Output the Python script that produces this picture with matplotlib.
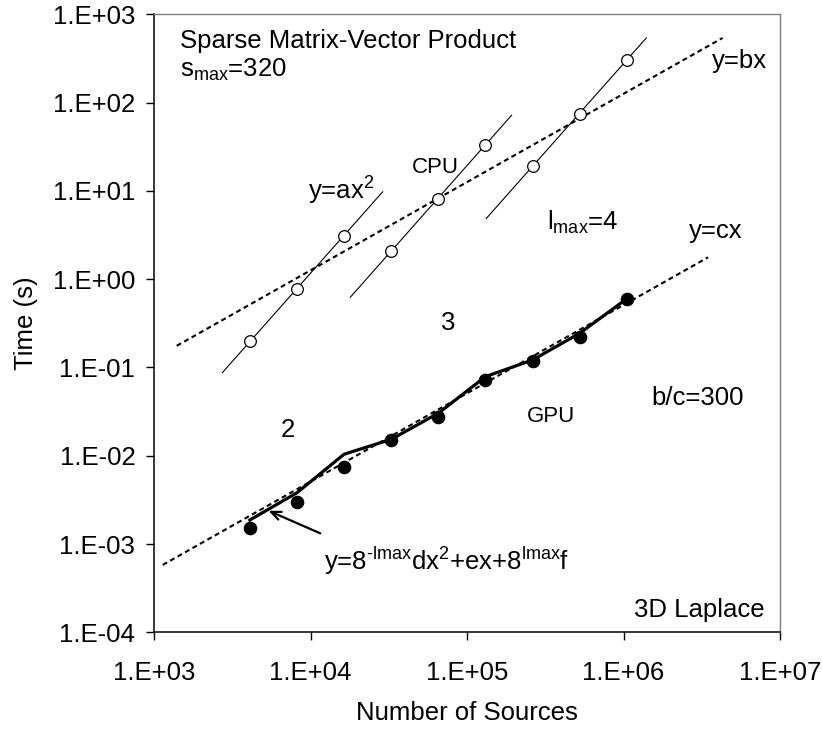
import numpy as np
import matplotlib
matplotlib.use("Agg")
import matplotlib.pyplot as plt
from matplotlib.ticker import FixedLocator, FuncFormatter, NullLocator

plt.rcParams['font.family'] = ['Liberation Sans', 'DejaVu Sans']
plt.rcParams['mathtext.fontset'] = 'custom'
plt.rcParams['mathtext.rm'] = 'Liberation Sans'
plt.rcParams['mathtext.it'] = 'Liberation Sans:italic'
plt.rcParams['mathtext.default'] = 'regular'

# ---------------- data ----------------
n_sources = [4096, 8192, 16384, 32768, 65536, 131072, 262144, 524288, 1048576]
lmax_group = [2, 2, 2, 3, 3, 3, 4, 4, 4]
cpu_time = [0.20, 0.78, 3.1, 2.1, 8.2, 33.5, 19.2, 75.0, 305.0]
gpu_time = [0.00151, 0.00299, 0.0075, 0.0151, 0.0277, 0.0722, 0.119, 0.220, 0.59]
gpu_model = [0.00187, 0.00381, 0.0104, 0.01535, 0.0303, 0.0787, 0.1216, 0.244, 0.60]

cpu_fit_groups = [2, 3, 4]
cpu_fit_xmin = [2736, 17950, 132700]
cpu_fit_xmax = [28900, 192700, 1400000]

b_coef = 1.26e-4
b_line_x = [1397, 4.3e6]
c_coef = 5.1e-7
c_line_x = [1137, 3.47e6]

arrow_tip = (5390, 2.385e-3)
arrow_tail = (11544, 1.322e-3)

x_ticks = [1e3, 1e4, 1e5, 1e6, 1e7]
y_ticks = [1e-4, 1e-3, 1e-2, 1e-1, 1e0, 1e1, 1e2, 1e3]

# ---------------- figure ----------------
W, H = 822, 729
fig = plt.figure(figsize=(W / 100, H / 100), dpi=100)
ax = fig.add_axes([154 / W, 1 - 632.3 / H, 626 / W, 617.9 / H])
ax.set_xscale('log')
ax.set_yscale('log')
ax.set_xlim(1e3, 1e7)
ax.set_ylim(1e-4, 1e3)

FS = 18.5
FS_S = 16

x = np.array(n_sources, dtype=float)
g = np.array(lmax_group)
cpu = np.array(cpu_time)

# CPU fitted lines y = a x^2 for each lmax group
for grp, x0, x1 in zip(cpu_fit_groups, cpu_fit_xmin, cpu_fit_xmax):
    m = g == grp
    a = np.exp(np.mean(np.log(cpu[m]) - 2 * np.log(x[m])))
    xx = np.array([x0, x1], dtype=float)
    ax.plot(xx, a * xx ** 2, color='black', lw=0.8, zorder=2)

# y = bx and y = cx dashed lines
bx = np.array(b_line_x, dtype=float)
ax.plot(bx, b_coef * bx, color='black', lw=1.5, dashes=(2.4, 1.7), zorder=2)
cx = np.array(c_line_x, dtype=float)
ax.plot(cx, c_coef * cx, color='black', lw=1.5, dashes=(2.4, 1.7), zorder=2)

# GPU model line
ax.plot(x, gpu_model, color='black', lw=2.3, zorder=3, solid_joinstyle='miter')

# markers
ax.plot(x, cpu_time, linestyle='none', marker='o', ms=8.4, mfc='white',
        mec='black', mew=0.9, zorder=4)
ax.plot(x, gpu_time, linestyle='none', marker='o', ms=8.8, mfc='black',
        mec='black', zorder=4)

# arrow
ax.annotate('', xy=arrow_tip, xytext=arrow_tail,
            arrowprops=dict(arrowstyle='->,head_length=0.7,head_width=0.3',
                            lw=1.6, color='black', shrinkA=0, shrinkB=0))

# axes styling
ax.xaxis.set_major_locator(FixedLocator(x_ticks))
ax.yaxis.set_major_locator(FixedLocator(y_ticks))
ax.xaxis.set_minor_locator(NullLocator())
ax.yaxis.set_minor_locator(NullLocator())
fmt = FuncFormatter(lambda v, p: "1.E%+03d" % int(round(np.log10(v))))
ax.xaxis.set_major_formatter(fmt)
ax.yaxis.set_major_formatter(fmt)
ax.tick_params(axis='x', direction='out', length=6, width=1.0, pad=15,
               labelsize=FS, top=False)
ax.tick_params(axis='y', direction='out', length=5.5, width=1.0, pad=8,
               labelsize=FS, right=False)
for s in ['left', 'bottom']:
    ax.spines[s].set_color('black')
    ax.spines[s].set_linewidth(1.1)
for s in ['top', 'right']:
    ax.spines[s].set_color('#7f7f7f')
    ax.spines[s].set_linewidth(1.0)

# axis labels
fig.text(467 / W, 1 - 720 / H, 'Number of Sources', ha='center', va='baseline',
         fontsize=FS)
fig.text(26 / W, 1 - 323 / H, 'Time (s)', ha='center', va='center',
         rotation=90, fontsize=FS)

# annotations (axes fraction)
T = ax.transAxes
ax.text(0.0415, 0.9456, 'Sparse Matrix-Vector Product', transform=T,
        fontsize=FS, va='baseline')
ax.text(0.0415, 0.8987, 's$_{max}$=320', transform=T, fontsize=FS, va='baseline')
ax.text(0.8919, 0.9132, 'y=bx', transform=T, fontsize=FS, va='baseline')
ax.text(0.4117, 0.7428, 'CPU', transform=T, fontsize=FS_S, va='baseline')
ax.text(0.2465, 0.7008, 'y=ax$^{2}$', transform=T, fontsize=FS, va='baseline')
ax.text(0.6273, 0.6511, 'l$_{max}$=4', transform=T, fontsize=FS, va='baseline')
ax.text(0.8551, 0.6376, 'y=cx', transform=T, fontsize=FS, va='baseline')
ax.text(0.4692, 0.4892, '3', transform=T, fontsize=FS, va='baseline', ha='center')
ax.text(0.2145, 0.3166, '2', transform=T, fontsize=FS, va='baseline', ha='center')
ax.text(0.5954, 0.3408, 'GPU', transform=T, fontsize=FS_S, va='baseline')
ax.text(0.7950, 0.3679, 'b/c=300', transform=T, fontsize=FS, va='baseline')
ax.text(0.976, 0.0248, '3D Laplace', transform=T, fontsize=FS, va='baseline',
        ha='right')
ax.text(0.2716, 0.1008, r'y=8$^{\text{-lmax}}$dx$^{2}$+ex+8$^{lmax}$f', transform=T,
        fontsize=FS, va='baseline')

fig.savefig('out.png', dpi=100)
